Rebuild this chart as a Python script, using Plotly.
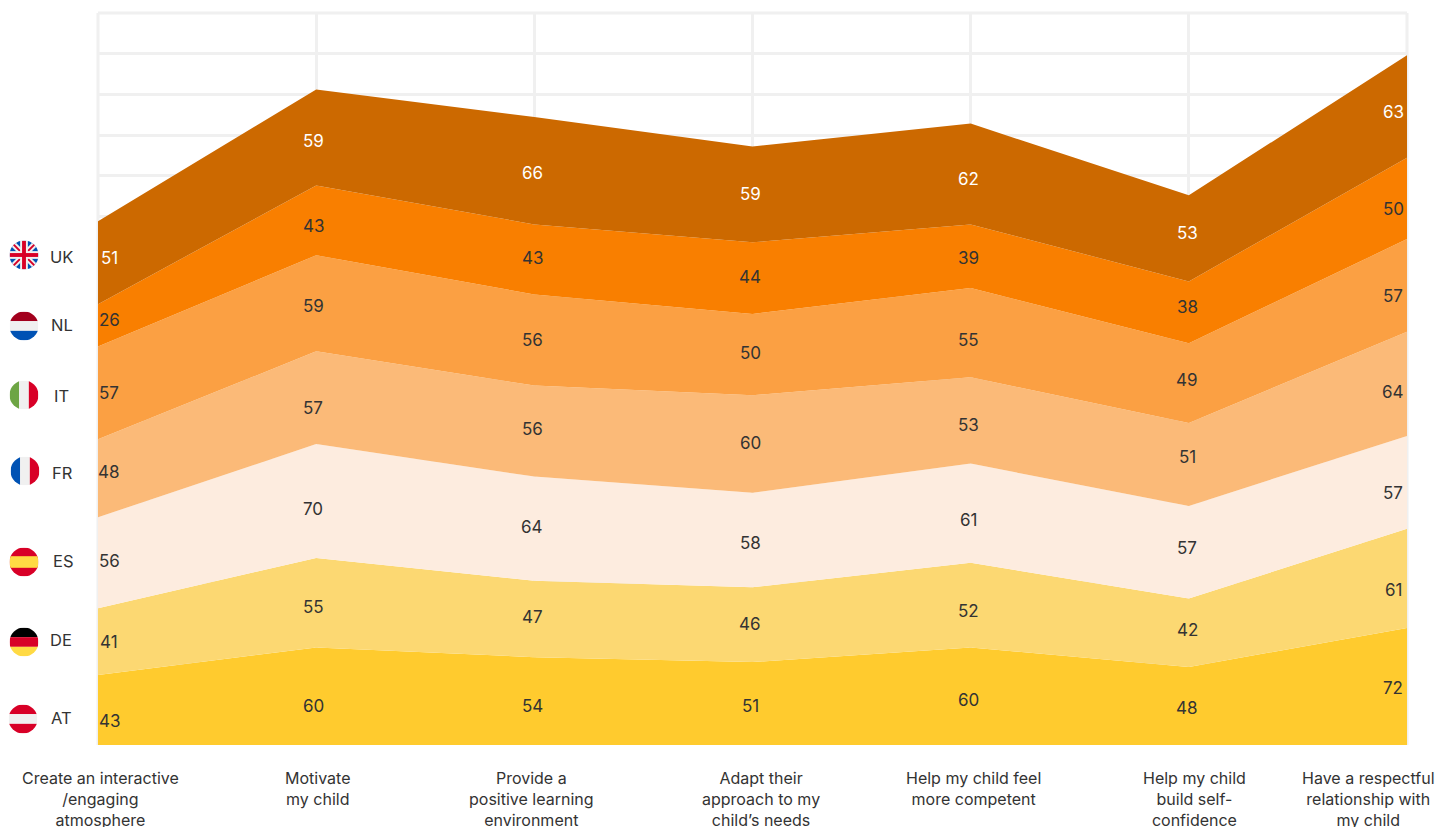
import base64
import plotly.graph_objects as go

categories = ["Create an interactive<br>/engaging<br>atmosphere", "Motivate<br>my child",
              "Provide a<br>positive learning<br>environment", "Adapt their<br>approach to my<br>child’s needs",
              "Help my child feel<br>more competent", "Help my child<br>build self-<br>confidence",
              "Have a respectful<br>relationship with<br>my child"]
AT = [43, 60, 54, 51, 60, 48, 72]
DE = [41, 55, 47, 46, 52, 42, 61]
ES = [56, 70, 64, 58, 61, 57, 57]
FR = [48, 57, 56, 60, 53, 51, 64]
IT = [57, 59, 56, 50, 55, 49, 57]
NL = [26, 43, 43, 44, 39, 38, 50]
UK = [51, 59, 66, 59, 62, 53, 63]
series_names = ["AT", "DE", "ES", "FR", "IT", "NL", "UK"]
series_values = [AT, DE, ES, FR, IT, NL, UK]
colors = ["#FFCB2E", "#FCD872", "#FDECDF", "#FBBA78", "#FBA043", "#F97F00", "#CC6900"]

# downward pixel nudges of the value labels, per series and column
nudge = [[10, 9, 4, 1.5, 3, 2, 1.5], [0, 4, -2, -1.5, 5, -3, 11.5], [-2, 7, -2, 2, 6, -4.5, 10.5],
         [-7, 9.5, -3, -2, 4, -7.5, 8], [0, 2, 0, -2.5, 6.5, -4, 10.5], [-6, 5, -2, -2, 1, -6, 10.5],
         [-5, 3, 1.5, -1, 4, -6, 4.5]]
xnudge = [11, -3, -2, -2.5, -2.5, -1.5, -14]
cat_xshift = [2, 1, -3, 8, 3, 6, -39]

FONT = "Inter"
W, H = 1453, 827
ML, MR, MT, MB = 98, 46, 13, 82
Y_MAX = 450

fig = go.Figure()
xs = list(range(len(categories)))
for name, vals, col in zip(series_names, series_values, colors):
    fig.add_trace(go.Scatter(x=xs, y=vals, name=name, stackgroup="one", mode="lines",
                             line=dict(width=0, color=col), fillcolor=col, hoverinfo="name+y"))

ann = []
cum = [0] * len(xs)
for s, (name, vals) in enumerate(zip(series_names, series_values)):
    for i, v in enumerate(vals):
        ann.append(dict(x=i, y=cum[i] + v / 2, xref="x", yref="y", text=str(v), showarrow=False,
                        xshift=xnudge[i], yshift=-nudge[s][i] - 0.5, yanchor="middle",
                        font=dict(family=FONT, size=17, color="#FFFFFF" if name == "UK" else "#333333")))
        cum[i] += v

for i, c in enumerate(categories):
    ann.append(dict(x=i, y=0, xref="x", yref="y", text=c, showarrow=False, xshift=cat_xshift[i], yshift=-20.5,
                    yanchor="top", align="center", font=dict(family=FONT, size=16, color="#333333")))

def flag(body):
    svg = ('<svg xmlns="http://www.w3.org/2000/svg" viewBox="0 0 30 30"><defs><clipPath id="c">'
           '<circle cx="15" cy="15" r="15"/></clipPath></defs><g clip-path="url(#c)">' + body + '</g></svg>')
    return "data:image/svg+xml;base64," + base64.b64encode(svg.encode()).decode()

def hbands(c1, c2, c3):
    return (f'<rect width="30" height="10" fill="{c1}"/><rect y="10" width="30" height="10" fill="{c2}"/>'
            f'<rect y="20" width="30" height="10" fill="{c3}"/>')

def vbands(c1, c2, c3):
    return (f'<rect width="10" height="30" fill="{c1}"/><rect x="10" width="10" height="30" fill="{c2}"/>'
            f'<rect x="20" width="10" height="30" fill="{c3}"/>')

uk = ('<rect width="30" height="30" fill="#0052B4"/>'
      '<path d="M0 0L30 30M30 0L0 30" stroke="#F0F0F0" stroke-width="6"/>'
      '<path d="M0 0L30 30M30 0L0 30" stroke="#D80027" stroke-width="2"/>'
      '<rect x="11" width="8" height="30" fill="#F0F0F0"/><rect y="11" width="30" height="8" fill="#F0F0F0"/>'
      '<rect x="13" width="4" height="30" fill="#D80027"/><rect y="13" width="30" height="4" fill="#D80027"/>')
es = ('<rect width="30" height="30" fill="#D80027"/><rect y="9" width="30" height="12" fill="#FFDA44"/>')
flags = [("UK", 24, 255, 61, 257, uk),
         ("NL", 24, 326, 62, 325, hbands("#A2001D", "#F0F0F0", "#0052B4")),
         ("IT", 24, 395, 61, 396, vbands("#6DA544", "#F0F0F0", "#D80027")),
         ("FR", 25, 471, 62, 473, vbands("#0052B4", "#F0F0F0", "#D80027")),
         ("ES", 24, 562, 63, 561, es),
         ("DE", 24, 642, 61, 640, hbands("#000000", "#D80027", "#FFDA44")),
         ("AT", 23, 719, 61, 718, hbands("#D80027", "#F0F0F0", "#D80027"))]
pw, ph = W - ML - MR, H - MT - MB
images = []
for code, fx, fy, tx, ty, body in flags:
    images.append(dict(source=flag(body), xref="paper", yref="paper", x=(fx - ML) / pw, y=1 - (fy - MT) / ph,
                       sizex=29 / pw, sizey=29 / ph, xanchor="center", yanchor="middle", sizing="stretch", layer="above"))
    ann.append(dict(xref="paper", yref="paper", x=(tx - ML) / pw, y=1 - (ty - MT) / ph, text=code, showarrow=False,
                    xanchor="center", yanchor="middle", font=dict(family=FONT, size=16.5, color="#333333")))

# frame: the grid lines on the range edges, which Plotly leaves out
GRID = dict(color="#F0F0F0", width=3)
frame = [dict(type="line", layer="below", xref="paper", yref="paper", x0=0, x1=0, y0=0, y1=1, line=GRID),
         dict(type="line", layer="below", xref="paper", yref="paper", x0=1, x1=1, y0=0, y1=1, line=GRID),
         dict(type="line", layer="below", xref="paper", yref="paper", x0=0, x1=1, y0=1, y1=1, line=GRID)]

axis_style = dict(tickmode="linear", showgrid=True, gridcolor="#F0F0F0", gridwidth=3, showticklabels=False,
                  zeroline=False, showline=False, ticks="")
fig.update_layout(width=W, height=H, margin=dict(l=ML, r=MR, t=MT, b=MB), paper_bgcolor="#FFFFFF",
                  plot_bgcolor="#FFFFFF", showlegend=False, annotations=ann, images=images, shapes=frame,
                  xaxis=dict(range=[0, 6], dtick=1, **axis_style),
                  yaxis=dict(range=[0, Y_MAX], dtick=25, **axis_style))
fig.write_html("out.html", config={"displayModeBar": False},
               post_script="document.body.style.margin='0';document.body.style.overflow='hidden';")
